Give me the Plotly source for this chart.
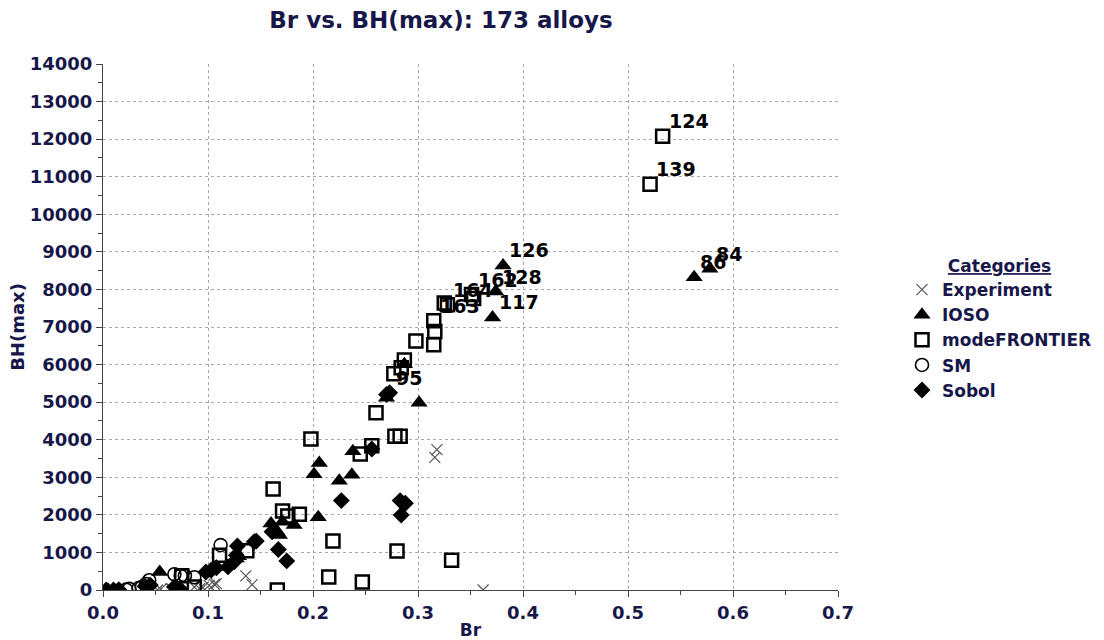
import plotly.graph_objects as go

# ---------------- data ----------------
ex_x = [0.316, 0.318, 0.136, 0.142, 0.362, 0.108, 0.101, 0.095, 0.092, 0.087, 0.071, 0.066, 0.065, 0.052, 0.055, 0.106]
ex_y = [3530, 3735, 374, 142, 0, 169, 125, 62, 35, 80, 125, 19, 35, 0, 20, 152]

io_x = [0.563, 0.578, 0.381, 0.374, 0.371, 0.301, 0.270, 0.287, 0.238, 0.237, 0.225, 0.206, 0.201,
        0.205, 0.160, 0.171, 0.168, 0.182, 0.166, 0.127, 0.129, 0.108, 0.054, 0.010, 0.005]
io_y = [8325, 8549, 8640, 7942, 7255, 4982, 5116, 6008, 3690, 3066, 2906, 3378, 3084,
        1934, 1773, 1818, 1462, 1729, 1550, 837, 900, 620, 481, 0, 0]
io_lab = ["86", "84", "126", "128", "117", "", "", "", "", "", "", "", "",
          "", "", "", "", "", "", "", "", "", "", "", ""]

mf_x = [0.533, 0.521, 0.351, 0.328, 0.315, 0.316, 0.315, 0.298, 0.287, 0.284, 0.277, 0.260, 0.198,
        0.162, 0.171, 0.176, 0.187, 0.219, 0.215, 0.247, 0.280, 0.332, 0.166, 0.245, 0.256, 0.278,
        0.283, 0.111, 0.137, 0.087, 0.075, 0.353, 0.325]
mf_y = [12080, 10800, 7862, 7594, 7166, 6880, 6525, 6630, 6124, 5918, 5757, 4715, 4020,
        2690, 2104, 1970, 2013, 1302, 348, 214, 1035, 794, 0, 3618, 3842, 4091,
        4091, 928, 1043, 80, 380, 7760, 7640]
mf_lab = ["124", "139", "162", "164", "163", "", "", "", "", "", "", "", "",
          "", "", "", "", "", "", "", "", "", "", "", "", "",
          "", "", "", "", "", "", ""]

sm_x = [0.112, 0.087, 0.068, 0.074, 0.044, 0.041, 0.037, 0.022, 0.025, 0.034, 0.078]
sm_y = [1195, 340, 420, 380, 260, 160, 80, 10, 30, 50, 380]

sb_x = [0.227, 0.283, 0.288, 0.284, 0.167, 0.175, 0.256, 0.161, 0.146, 0.144, 0.128, 0.125, 0.119,
        0.108, 0.103, 0.098, 0.270, 0.273, 0.068, 0.073, 0.040, 0.045, 0.010, 0.015, 0.003, 0.127]
sb_y = [2380, 2380, 2308, 1997, 1078, 775, 3752, 1551, 1302, 1283, 1170, 749, 615,
        588, 527, 481, 5206, 5250, 80, 35, 100, 130, 0, 10, 0, 928]
sb_lab = ["", "", "", "", "", "", "", "", "", "", "", "", "",
          "", "", "", "", "95", "", "", "", "", "", "", "", ""]

x_ticks = [0.0, 0.1, 0.2, 0.3, 0.4, 0.5, 0.6, 0.7]
y_ticks = list(range(0, 14001, 1000))

# ---------------- styling ----------------
NAVY = "#17174a"
FONT = "DejaVu Sans"

fig = go.Figure()


def highlight(xs, ys, labs, symbol, size):
    hx = [x for x, l in zip(xs, labs) if l]
    hy = [y for y, l in zip(ys, labs) if l]
    fig.add_trace(go.Scatter(x=hx, y=hy, mode="markers", showlegend=False, hoverinfo="skip",
                             marker=dict(symbol=symbol, size=size, color="rgba(0,0,0,0)",
                                         line=dict(color="#9a9a9a", width=2))))


highlight(mf_x, mf_y, mf_lab, "square-open", 18)
highlight(io_x, io_y, io_lab, "triangle-up-open", 19)

fig.add_trace(go.Scatter(x=ex_x, y=ex_y, mode="markers", name="Experiment",
                         marker=dict(symbol="x-thin-open", size=11, color="#555555",
                                     line=dict(color="#555555", width=1.2))))
fig.add_trace(go.Scatter(x=io_x, y=io_y, mode="markers", name="IOSO",
                         marker=dict(symbol="triangle-up", size=15, color="black",
                                     line=dict(width=0))))
fig.add_trace(go.Scatter(x=mf_x, y=mf_y, mode="markers", name="modeFRONTIER",
                         marker=dict(symbol="square-open", size=13, color="black",
                                     line=dict(color="black", width=2.5))))
fig.add_trace(go.Scatter(x=sm_x, y=sm_y, mode="markers", name="SM",
                         marker=dict(symbol="circle-open", size=13, color="black",
                                     line=dict(color="black", width=1.6))))
fig.add_trace(go.Scatter(x=sb_x, y=sb_y, mode="markers", name="Sobol",
                         marker=dict(symbol="diamond", size=13, color="black",
                                     line=dict(width=0))))

annotations = []
for xs, ys, labs in [(io_x, io_y, io_lab), (mf_x, mf_y, mf_lab), (sb_x, sb_y, sb_lab)]:
    for x, y, l in zip(xs, ys, labs):
        if l:
            annotations.append(dict(x=x, y=y, text=l, showarrow=False, xanchor="left",
                                    yanchor="middle", xshift=4, yshift=15,
                                    font=dict(family=FONT, size=19, color="black", weight="bold")))

axis_common = dict(showgrid=True, gridcolor="#a8a8a8", griddash="dot", gridwidth=1,
                   showline=True, linecolor="#444444", linewidth=1.2, zeroline=False,
                   ticks="outside", ticklen=6, tickcolor="#444444", automargin=False,
                   tickfont=dict(family=FONT, size=18, color=NAVY, weight="bold"))

fig.update_layout(
    width=1104, height=640,
    margin=dict(l=103, r=266, t=64, b=50, autoexpand=False),
    paper_bgcolor="white", plot_bgcolor="white",
    title=dict(text="Br vs. BH(max): 173 alloys", x=441 / 1104, xanchor="center",
               y=1 - 20 / 640, yanchor="middle", xref="container", yref="container",
               font=dict(family=FONT, size=23, color=NAVY, weight="bold")),
    xaxis=dict(range=[0, 0.7], tickvals=x_ticks, tickformat=".1f",
               minor=dict(dtick=0.05, ticks="outside", ticklen=4, tickcolor="#444444", showgrid=False),
               title=dict(text="Br", standoff=4,
                          font=dict(family=FONT, size=17, color=NAVY, weight="bold")),
               **axis_common),
    yaxis=dict(range=[0, 14000], tickvals=y_ticks, tickformat="d",
               minor=dict(dtick=500, ticks="outside", ticklen=4, tickcolor="#444444", showgrid=False),
               title=dict(text="BH(max)", standoff=0,
                          font=dict(family=FONT, size=18, color=NAVY, weight="bold")),
               **axis_common),
    legend=dict(xref="container", yref="container", x=902 / 1104, y=1 - 250 / 640,
                xanchor="left", yanchor="top",
                title=dict(text="<u>Categories</u>", side="top center",
                           font=dict(family=FONT, size=17, color=NAVY, weight="bold")),
                font=dict(family=FONT, size=17, color=NAVY, weight="bold"),
                itemwidth=30, tracegroupgap=0, bgcolor="rgba(0,0,0,0)"),
    annotations=annotations,
    showlegend=True,
)

fig.write_html("out.html")
